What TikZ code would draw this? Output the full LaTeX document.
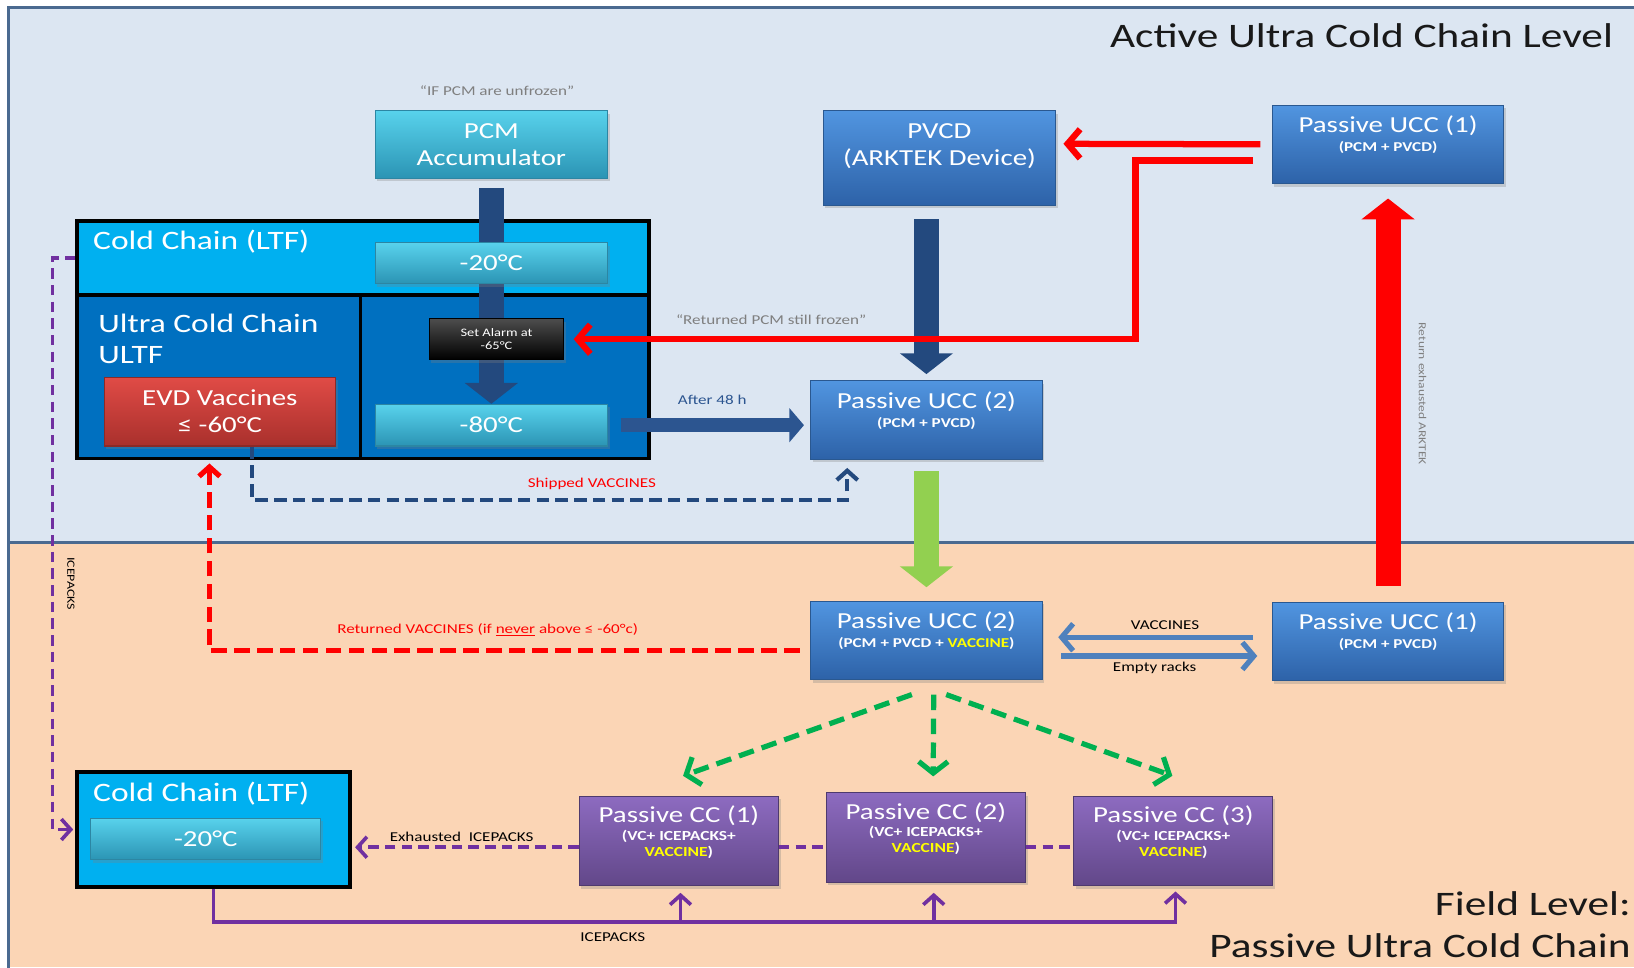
\documentclass[tikz,border=0pt]{standalone}
\usepackage{fontspec}
\setmainfont[FakeStretch=1.26]{Carlito}
\usetikzlibrary{positioning, calc, arrows.meta, shadows}
\pgfdeclarelayer{back}
\pgfdeclarelayer{mid}
\pgfsetlayers{back,mid,main}
\definecolor{skybg}{HTML}{DCE6F2}
\definecolor{peachbg}{HTML}{FBD5B5}
\definecolor{framecol}{HTML}{4A6A90}
\definecolor{ltfblue}{HTML}{00B0F0}
\definecolor{ultfblue}{HTML}{0070C0}
\definecolor{cyantop}{HTML}{58D2EC}
\definecolor{cyanbot}{HTML}{2B94B4}
\definecolor{cyanline}{HTML}{2C86A3}
\definecolor{bluetop}{HTML}{5195E0}
\definecolor{bluebot}{HTML}{2D62A8}
\definecolor{blueline}{HTML}{2A5890}
\definecolor{purptop}{HTML}{8D6BC0}
\definecolor{purpbot}{HTML}{624789}
\definecolor{purpline}{HTML}{4E3A6E}
\definecolor{evdtop}{HTML}{E04B46}
\definecolor{evdbot}{HTML}{A9302C}
\definecolor{evdline}{HTML}{8B2A27}
\definecolor{dkarrow}{HTML}{23497E}
\definecolor{midarrow}{HTML}{2C5590}
\definecolor{ltgreen}{HTML}{92D050}
\definecolor{dkgreen}{HTML}{00B050}
\definecolor{purpl}{HTML}{7030A0}
\definecolor{steel}{HTML}{4F81BD}
\definecolor{vyellow}{HTML}{FFFF00}
\definecolor{greytxt}{HTML}{7F7F7F}
\newcommand{\uccsub}{\fontsize{13}{15}\selectfont\bfseries}
\newcommand{\ccsub}{\fontsize{13.3}{15}\selectfont\bfseries}

\begin{document}
\begin{tikzpicture}[x=1pt, y=-1pt, >={Straight Barb[length=9pt, width=20pt]},
  box/.style={rectangle, inner sep=0pt, line width=1pt, align=center, text=white,
    font=\fontsize{22}{26}\selectfont, drop shadow={opacity=0.3, shadow xshift=2pt, shadow yshift=-3pt}},
  cyanbox/.style={box, draw=cyanline, top color=cyantop, bottom color=cyanbot},
  bluebox/.style={box, draw=blueline, top color=bluetop, bottom color=bluebot},
  purplebox/.style={box, draw=purpline, top color=purptop, bottom color=purpbot},
  evdbox/.style={box, draw=evdline, top color=evdtop, bottom color=evdbot},
  alarmbox/.style={box, draw=black, top color=black!70, bottom color=black, font=\fontsize{11}{13}\selectfont},
  ucc/.style={bluebox, minimum width=222pt, minimum height=75pt, text depth=20pt},
  passcc/.style={purplebox, minimum width=191pt, minimum height=86pt, text depth=19pt},
  region/.style={rectangle, draw=black, line width=3.5pt, inner sep=0pt},
  title/.style={inner sep=0pt, font=\fontsize{33}{40}\selectfont, text=black!90},
  regtxt/.style={inner sep=0pt, text=white, align=left, font=\fontsize{25.5}{30}\selectfont},
  lbl/.style={inner sep=1pt, font=\fontsize{13}{15}\selectfont},
  fatarrow/.style={line width=24pt, -{Triangle[length=20pt, width=50pt]}},
  redarrow/.style={red, line width=6pt, -{Straight Barb[length=12pt, width=28pt]}},
  shipdash/.style={dkarrow, line width=4pt, dash pattern=on 12pt off 6pt, ->},
  retdash/.style={red, line width=5pt, dash pattern=on 15pt off 7pt, ->},
  gdash/.style={dkgreen, line width=5pt, dash pattern=on 15pt off 8pt, -{Straight Barb[length=11pt, width=28pt]}},
  pdash/.style={purpl, line width=3.5pt, dash pattern=on 10pt off 6pt},
  psolid/.style={purpl, line width=3.5pt},
  steelarrow/.style={steel, line width=5pt, -{Straight Barb[length=11pt, width=26pt]}}]
\useasboundingbox (0,0) rectangle (1568,928);

\begin{pgfonlayer}{back}
\fill[white] (0,0) rectangle (1568,928);
\fill[skybg] (8,7) rectangle (1568,521);
\fill[peachbg] (8,521) rectangle (1568,928);
\draw[framecol, line width=3pt] (1570,7) -- (8,7) -- (8,930);
\draw[framecol, line width=3pt] (8,521) -- (1570,521);
\node[region, fill=ltfblue, minimum width=549pt, minimum height=71pt] (ltfup) at (348.5,247.5) {};
\node[region, fill=ultfblue, minimum width=272pt, minimum height=157pt] (ultfL) at (210,361.5) {};
\node[region, fill=ultfblue, minimum width=277pt, minimum height=157pt] (ultfR) at (484.5,361.5) {};
\node[region, fill=ltfblue, minimum width=262pt, minimum height=110pt] (ltflow) at (205,796) {};
\end{pgfonlayer}

\node[title, anchor=east] (acttitle) at (1548,34) {Active Ultra Cold Chain Level};
\node[title, anchor=east] (fieldtitle) at (1565,867) {Field Level:};
\node[title, anchor=east] (passtitle) at (1565,907) {Passive Ultra Cold Chain};

\node[regtxt, anchor=base west] (ltftxt) at ($(ltfup.north west)+(17,29.5)$) {Cold Chain (LTF)};
\node[regtxt, anchor=north west] (ultftxt) at ($(ultfL.north west)+(22,20)$) {Ultra Cold Chain\\ULTF};
\node[regtxt, anchor=base west] (ltflowtxt) at ($(ltflow.north west)+(17,29.5)$) {Cold Chain (LTF)};

\node[cyanbox, minimum width=223pt, minimum height=65pt] (pcm) at (471.5,138.5) {PCM\\Accumulator};
\node[lbl, greytxt] (unfrozen) at (477,87) {“IF PCM are unfrozen”};
\node[cyanbox, minimum width=223pt, minimum height=39pt] (m20) at (471.5,252.5) {-20°C};
\node[alarmbox, minimum width=129pt, minimum height=39pt] (alarm) at (476.5,325.5) {Set Alarm at\\-65°C};
\node[cyanbox, minimum width=223pt, minimum height=40pt] (m80) at (471.5,408) {-80°C};
\node[evdbox, minimum width=222pt, minimum height=66pt] (evd) at (211,395) {EVD Vaccines\\≤ -60°C};
\node[cyanbox, minimum width=221pt, minimum height=40pt] (m20b) at (197.5,805) {-20°C};

\node[bluebox, minimum width=223pt, minimum height=91pt, text depth=26pt] (pvcd) at (901.5,151.5) {PVCD\\(ARKTEK Device)};
\node[ucc] (ucc1a) at (1332,138.5) {Passive UCC (1)\\[-8pt]\uccsub (PCM + PVCD)};
\node[ucc] (ucc2a) at (889,403) {Passive UCC (2)\\[-8pt]\uccsub (PCM + PVCD)};
\node[ucc] (ucc2b) at (889,614.5) {Passive UCC (2)\\[-8pt]\uccsub (PCM + PVCD + \textcolor{vyellow}{VACCINE})};
\node[ucc] (ucc1b) at (1332,615.5) {Passive UCC (1)\\[-8pt]\uccsub (PCM + PVCD)};

\node[passcc] (cc1) at (651.5,807) {Passive CC (1)\\[-9pt]\ccsub (VC+ ICEPACKS+\\[-11pt]\ccsub\textcolor{vyellow}{VACCINE})};
\node[passcc] (cc2) at (888.5,803.5) {Passive CC (2)\\[-9pt]\ccsub (VC+ ICEPACKS+\\[-11pt]\ccsub\textcolor{vyellow}{VACCINE})};
\node[passcc] (cc3) at (1126,807) {Passive CC (3)\\[-9pt]\ccsub (VC+ ICEPACKS+\\[-11pt]\ccsub\textcolor{vyellow}{VACCINE})};

\begin{pgfonlayer}{mid}
\draw[fatarrow, dkarrow] ($(pcm.south)+(0,9)$) -- (m80.north);
\end{pgfonlayer}

\draw[fatarrow, dkarrow] ($(pvcd.south -| ucc2a.north)+(0,13)$) -- ($(ucc2a.north)+(0,-6)$);
\draw[midarrow, line width=13pt, -{Triangle[length=14pt, width=32pt]}] ($(m80.east)+(12,0)$) -- ($(ucc2a.west)+(-6,5)$)
  node[lbl, midway, above=12pt] (after48) {After 48 h};

\draw[redarrow] ($(ucc1a.west)+(-11,0)$) -- ($(pvcd.east)+(7,-13.5)$);
\draw[redarrow] ($(ucc1a.west)+(-18,15.5)$) -- ++(-113,0) |- ($(alarm.east)+(9,0)$);
\node[lbl, greytxt] (frozen) at (740,307) {“Returned PCM still frozen”};

\draw[fatarrow, red] ($(ucc1b.north)+(0,-15)$) -- ($(ucc1a.south)+(0,14)$);
\node[lbl, greytxt, rotate=-90, font=\fontsize{10.3}{12}\selectfont] (exhausted) at (1365,378) {Return exhausted ARKTEK};
\draw[fatarrow, ltgreen] ($(ucc2a.south)+(0,11)$) -- ($(ucc2b.north)+(0,-13)$);

\draw[shipdash] ($(evd.south)+(31,0)$) -- ++(0,51) -| ($(ucc2a.south)+(-76,8)$);
\node[lbl, red] (shipped) at (568,464) {Shipped VACCINES};

\draw[retdash] ($(ucc2b.west)+(-10,10)$) -| ($(ultfL.south)+(-9,3)$);
\node[lbl, red] (returned) at (468,604) {Returned VACCINES (if \underline{never} above ≤ -60°c)};

\coordinate (vacc) at ($(ucc1b.west)+(-18,-4)$);
\draw[steelarrow] (vacc) -- ($(vacc -| ucc2b.east)+(15,0)$);
\coordinate (racks) at ($(ucc2b.east)+(18,15)$);
\draw[steelarrow] (racks) -- ($(racks -| ucc1b.west)+(-14,0)$);
\node[lbl] (vacctxt) at (1118,600) {VACCINES};
\node[lbl] (rackstxt) at (1108,641) {Empty racks};

\draw[gdash] ($(ucc2b.south)+(-14,14)$) -- ($(cc1.north)+(4,-19)$);
\draw[gdash] ($(ucc2b.south)+(7,14)$) -- ($(cc2.north)+(7,-15)$);
\draw[gdash] ($(ucc2b.south)+(19,14)$) -- ($(cc3.north)+(-1,-19)$);

\coordinate (exh) at ($(cc1.west)+(0,6)$);
\draw[pdash, ->] (exh) -- ($(exh -| ltflow.east)+(3,0)$);
\draw[pdash] ($(cc1.east)+(0,6)$) -- ($(cc2.west)+(0,9.5)$);
\draw[pdash] ($(cc2.east)+(0,9.5)$) -- ($(cc3.west)+(0,6)$);
\node[lbl] (exhtxt) at (443,803) {Exhausted\ \ ICEPACKS};

\coordinate (ibase) at ($(ltflow.south)+(0,32)$);
\draw[psolid, ->] (ltflow.south) -- (ibase) -| ($(cc3.south)+(2,5)$);
\draw[psolid, ->] (ibase -| cc1.south) ++(1.5,0) -- ++(0,-28);
\draw[psolid, ->] (ibase -| cc2.south) ++(7.5,0) -- ++(0,-28);
\node[lbl] (icetxt) at (588,899) {ICEPACKS};

\draw[pdash, ->] (ltfup.west) -- ++(-22,0) |- ($(ltflow.west)+(-2,0)$);
\node[lbl, rotate=-90, font=\fontsize{10.6}{12}\selectfont] (icevert) at (68,560) {ICEPACKS};
\end{tikzpicture}
\end{document}
